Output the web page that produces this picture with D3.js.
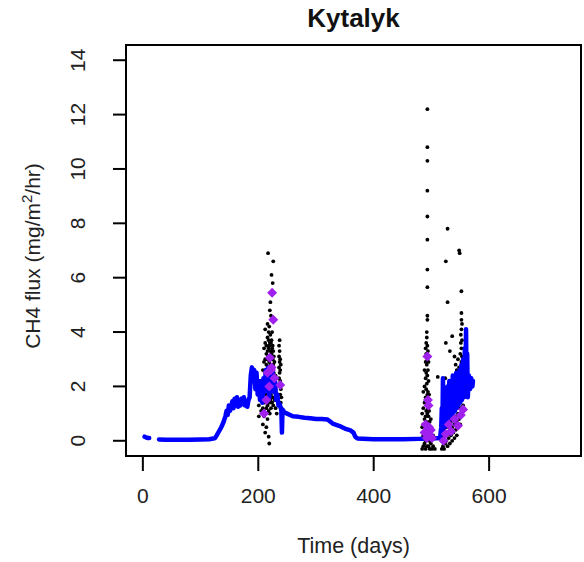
<!DOCTYPE html>
<html><head><meta charset="utf-8">
<script src="https://cdn.jsdelivr.net/npm/d3@7"></script>
<style>body{margin:0;background:#fff}svg{display:block}text{font-family:"Liberation Sans",Arial,sans-serif}</style>
</head><body><svg id="c" width="584" height="562"></svg>
<script>
const title = "Kytalyk";
const xTicks = [0, 200, 400, 600];
const yTicks = [0, 2, 4, 6, 8, 10, 12, 14];

// modelled flux (blue line); null = gap
const modelDays = [3,6,9,11,null,28,40,60,80,100,115,122,125,128,132,136,140,143,145,147,149,151,153,155,157,159,161,163,165,167,169,171,173,175,177,179,181,183,185,187,189,191,193,195,197,199,201,203,205,207,209,211,213,215,217,219,221,223,225,227,229,231,233,235,237,239,240,241,242,245,250,255,260,270,280,290,300,310,320,325,330,340,350,360,365,368,372,400,450,480,500,515,517,518,519,520,521,522,523,525,526,528,529,531,532,534,535,537,538,540,541,543,544,546,547,549,550,552,553,555,556,558,559,560,561,562,563,565,567,569,571,572];
const modelFlux = [0.15,0.12,0.1,0.1,null,0.05,0.04,0.04,0.04,0.05,0.06,0.08,0.1,0.2,0.35,0.5,0.7,0.9,1.1,0.95,1.3,1.1,1.25,1.45,1.2,1.55,1.3,1.6,1.25,1.5,1.3,1.55,1.35,1.6,1.3,1.45,1.25,1.5,1.6,2.4,2.7,2.2,2.6,1.9,2.5,1.7,2.2,1.5,2.0,1.4,2.3,1.8,2.6,1.9,2.7,1.6,2.3,2.0,2.5,1.8,2.2,1.5,1.7,1.3,1.35,1.2,1.1,0.3,1.15,1.05,1.0,0.95,0.9,0.88,0.85,0.83,0.8,0.8,0.78,0.7,0.62,0.55,0.45,0.38,0.3,0.15,0.08,0.06,0.06,0.07,0.08,0.1,0.5,1.2,0.4,2.3,0.6,1.6,0.5,1.8,0.7,2.0,0.8,2.2,0.9,1.9,0.8,2.4,1.0,2.1,1.1,2.5,1.2,2.2,1.3,2.6,1.4,2.8,1.5,3.0,1.6,3.4,1.8,4.1,1.7,3.2,1.6,2.4,1.9,2.3,2.0,2.2];

// observed chamber fluxes (black points)
const obsDays = [
201,201,205,205,205,208,208,208,208,208,210,210,210,210,210,210,
212,212,212,212,212,212,212,212,214,214,214,214,214,214,214,
216,216,216,216,216,216,216,216,217,217,217,218,218,218,218,218,218,218,218,
219,219,219,219,219,219,220,220,220,220,220,220,221,221,221,221,221,221,
222,222,222,222,222,222,223,223,223,223,223,224,224,224,224,224,
225,225,225,225,225,226,226,226,226,226,227,227,227,228,228,228,230,230,230,232,232,
236,236,236,236,237,237,237,237,237,238,238,238,238,239,239,239,240,240,
484,484,484,484,486,486,486,486,486,488,488,488,488,488,488,
490,490,490,490,490,490,490,490,491,491,491,491,491,491,491,
492,492,492,492,492,492,492,
493,493,493,493,493,493,493,493,493,493,493,493,493,493,493,493,
494,494,494,494,494,494,495,495,495,495,495,495,496,496,496,496,497,497,497,497,
499,499,499,501,501,501,503,503,506,506,
511,518,518,520,520,520,522,522,522,524,524,524,524,525,525,526,526,526,
528,528,528,528,528,528,530,530,530,530,532,532,532,532,532,534,534,534,534,
536,536,536,536,536,536,538,538,538,538,540,540,540,540,540,540,
542,542,542,542,542,544,544,544,544,544,546,546,546,546,546,
548,548,548,548,548,549,550,550,550,550,550,551,551,
552,552,552,552,552,552,552,552,552,553,553,553,553,553,555,555,555,557,557];
const obsFlux = [
0.9,1.3,1.1,1.8,2.2,0.6,1.2,1.6,2.0,2.6,0.9,1.4,1.9,2.3,2.9,3.4,
0.3,1.0,1.5,2.1,2.5,3.0,3.6,4.1,0.5,1.2,1.7,2.2,2.8,3.2,3.5,
0.8,1.3,1.9,2.4,3.0,3.3,3.8,4.3,6.9,2.7,3.1,0.15,1.1,1.6,2.0,2.6,3.4,3.7,4.0,
-0.1,1.4,2.2,2.9,3.5,4.2,1.0,1.8,2.5,3.1,3.6,4.8,1.5,2.0,2.8,3.3,3.9,5.1,
1.2,1.7,2.4,3.0,3.6,4.6,6.1,2.1,2.7,3.2,3.7,1.4,1.9,2.6,3.4,4.0,
5.8,1.6,2.3,3.0,3.5,6.6,1.3,2.0,2.8,3.3,1.8,2.5,3.1,1.5,2.2,2.9,1.2,1.9,2.4,1.0,1.6,
2.3,2.7,3.1,3.5,2.0,2.5,2.9,3.3,3.7,1.7,2.2,2.6,3.0,1.4,1.9,2.8,1.2,1.6,
-0.3,0.1,0.5,1.0,-0.2,0.2,0.6,1.2,1.8,-0.1,0.3,0.8,1.4,2.0,2.6,
-0.3,0.0,0.4,0.9,1.6,2.3,2.9,3.4,0.2,0.7,1.1,1.9,2.5,3.2,3.6,
-0.2,0.5,1.3,2.1,2.8,3.8,4.0,
12.2,10.8,10.3,9.2,8.25,7.4,6.3,5.65,4.6,4.45,3.5,3.0,2.4,1.7,1.0,0.3,
0.1,0.6,1.2,1.8,2.6,3.3,-0.2,0.4,0.9,1.5,2.2,2.9,0.0,0.5,1.1,1.7,-0.3,0.2,0.7,1.3,
-0.1,0.3,0.8,-0.3,0.1,0.4,-0.2,0.2,-0.3,0.1,
2.35,-0.3,0.0,-0.2,0.2,0.5,-0.3,0.1,0.4,2.3,-0.1,0.3,0.7,6.6,3.6,0.0,0.5,0.9,
7.8,5.1,-0.2,0.3,0.8,1.2,0.1,0.6,1.0,1.5,3.3,-0.1,0.4,0.9,1.3,0.2,0.7,1.2,1.8,
3.85,0.0,0.5,1.0,1.6,2.1,0.3,0.9,1.4,2.0,3.1,0.1,0.6,1.1,1.7,2.4,
0.4,0.9,1.5,2.2,2.8,0.2,0.7,1.3,1.9,2.6,0.5,1.0,1.6,2.3,3.0,
7.0,0.8,1.4,2.1,2.7,6.9,0.6,1.2,1.9,2.5,3.2,3.9,3.6,
5.5,4.7,4.45,4.1,3.4,2.9,2.2,1.5,1.0,4.3,3.7,3.1,2.6,1.8,1.3,2.0,2.7,1.6,2.4];

// daily mean observed flux (purple diamonds)
const meanDays = [210,214,216,219,220,222,223,224,226,228,238,
  488,490,492,493,494,495,496,497,499,501,521,525,530,534,540,546,551,555];
const meanFlux = [1.0,1.5,2.5,2.0,3.05,2.6,2.7,5.45,4.45,2.3,2.05,
  0.3,0.6,0.1,3.1,1.5,1.3,0.5,0.2,0.4,0.1,0.0,0.25,0.6,0.35,0.8,0.55,0.95,1.15];

const svg = d3.select("#c");
const L = 126, R = 581, T = 45, B = 456;
const x = d3.scaleLinear().domain([-29.2, 759.2]).range([L, R]);
const y = d3.scaleLinear().domain([-0.56, 14.56]).range([B, T]);

const plot = svg.append("g");
// black observation points
plot.selectAll("circle.obs").data(obsDays.map((d,i)=>[d,obsFlux[i]])).join("circle")
  .attr("class","obs").attr("cx",d=>x(d[0])).attr("cy",d=>y(d[1])).attr("r",1.9).attr("fill","#000");

// model line
const mdata = modelDays.map((d,i)=>[d,modelFlux[i]]);
plot.append("path").datum(mdata)
  .attr("d", d3.line().defined(d=>d[0]!==null && d[1]!==null).x(d=>x(d[0])).y(d=>y(d[1])))
  .attr("fill","none").attr("stroke","#0000FF").attr("stroke-width",4.5).attr("stroke-linejoin","round").attr("stroke-linecap","round");

// purple diamonds
const dm = 5;
plot.selectAll("path.mean").data(meanDays.map((d,i)=>[d,meanFlux[i]])).join("path")
  .attr("class","mean")
  .attr("d", d=>{const cx=x(d[0]), cy=y(d[1]); return `M${cx},${cy-dm}L${cx+dm},${cy}L${cx},${cy+dm}L${cx-dm},${cy}Z`;})
  .attr("fill","#A020F0");

// box
svg.append("rect").attr("x",L).attr("y",T).attr("width",R-L).attr("height",B-T)
  .attr("fill","none").attr("stroke","#000").attr("stroke-width",2);

// x axis
const xa = svg.append("g");
xa.selectAll("line").data(xTicks).join("line")
  .attr("x1",d=>x(d)).attr("x2",d=>x(d)).attr("y1",B).attr("y2",B+15)
  .attr("stroke","#000").attr("stroke-width",2);
xa.selectAll("text").data(xTicks).join("text")
  .attr("x",d=>x(d)).attr("y",503).attr("text-anchor","middle").attr("font-size",21).attr("fill","#222").text(d=>d);

// y axis
const ya = svg.append("g");
ya.selectAll("line").data(yTicks).join("line")
  .attr("x1",L).attr("x2",L-13).attr("y1",d=>y(d)).attr("y2",d=>y(d))
  .attr("stroke","#000").attr("stroke-width",2);
ya.selectAll("text").data(yTicks).join("text")
  .attr("transform",d=>`translate(85,${y(d)}) rotate(-90)`)
  .attr("text-anchor","middle").attr("font-size",21).attr("fill","#222").text(d=>d);

// titles
svg.append("text").attr("x",(L+R)/2).attr("y",27).attr("text-anchor","middle")
  .attr("font-size",26).attr("font-weight","bold").attr("fill","#111").text(title);
svg.append("text").attr("x",(L+R)/2).attr("y",553).attr("text-anchor","middle")
  .attr("font-size",21.5).attr("fill","#222").text("Time (days)");
const yl = svg.append("text").attr("transform","translate(40,256) rotate(-90)")
  .attr("text-anchor","middle").attr("font-size",21).attr("fill","#222");
yl.append("tspan").text("CH4 flux (mg/m");
yl.append("tspan").attr("font-size",15).attr("dy",-8).text("2");
yl.append("tspan").attr("dy",8).text("/hr)");
</script></body></html>
